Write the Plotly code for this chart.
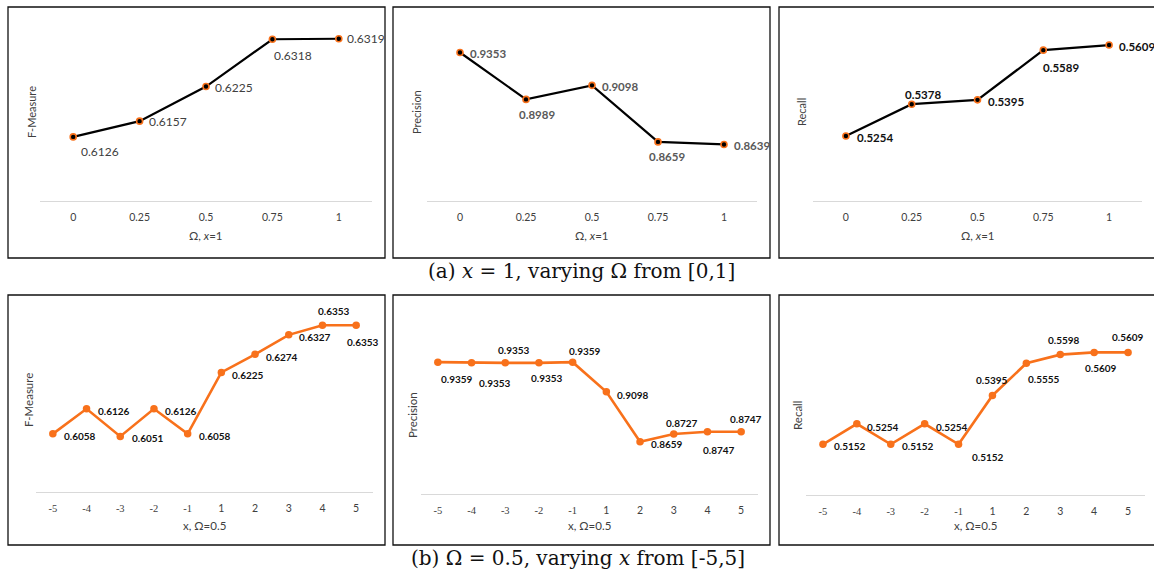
import plotly.graph_objects as go

W, H = 1154, 575

# ---------------- data ----------------
omega_cats = ["0", "0.25", "0.5", "0.75", "1"]
x_cats = ["-5", "-4", "-3", "-2", "-1", "1", "2", "3", "4", "5"]

fm_omega = [0.6126, 0.6157, 0.6225, 0.6318, 0.6319]
prec_omega = [0.9353, 0.8989, 0.9098, 0.8659, 0.8639]
rec_omega = [0.5254, 0.5378, 0.5395, 0.5589, 0.5609]

fm_x = [0.6058, 0.6126, 0.6051, 0.6126, 0.6058, 0.6225, 0.6274, 0.6327, 0.6353, 0.6353]
prec_x = [0.9359, 0.9353, 0.9353, 0.9353, 0.9359, 0.9098, 0.8659, 0.8727, 0.8747, 0.8747]
rec_x = [0.5152, 0.5254, 0.5152, 0.5254, 0.5152, 0.5395, 0.5555, 0.5598, 0.5609, 0.5609]

y_titles = ["F-Measure", "Precision", "Recall"]
x_title_top = "Ω, <i>x</i>=1"
x_title_bottom = "x, Ω=0.5"
caption_a = "(a) <i>x</i> = 1, varying Ω from [0,1]"
caption_b = "(b) Ω = 0.5, varying <i>x</i> from [-5,5]"

# ---------------- layout config (pixels) ----------------
ORANGE = "#F8711B"
TOP_LBL = [
    [(26.5, 15), (28, 0), (28, 1), (21, 16), (27, 0)],
    [(28, 1), (11, 15), (28, 1), (9, 15), (28, 1)],
    [(29, 2), (11, -10), (28, 2), (18, 17), (28, 1)],
]
BOT_LBL = [
    [(27.5, 2), (27.5, 2), (27.5, 2), (27.5, 2), (27.5, 2), (26.5, 3), (26.5, 3), (26.5, 2), (12, -14), (7, 17)],
    [(19, 17), (23, 20), (9, -13), (8, 15), (12, -11), (26.5, 3), (26.5, 2), (8, -11), (12, 18), (5, -13)],
    [(27.5, 2), (26.5, 3), (27.5, 2), (27.5, 3), (29, 13), (0, -15), (18, 16), (4, -15), (7, 16), (0, -15)],
]

panels = [
    dict(cats=omega_cats, y=fm_omega, xd=(40, 372), yd=(23, 201), yr=(0.6, 0.635), top=True,
         lblfont=dict(family="Lato", size=12, color="#404040"), lbl=TOP_LBL[0],
         ytitle=(32, 112), box=(8, 7, 385, 258)),
    dict(cats=omega_cats, y=prec_omega, xd=(427, 757), yd=(23, 201), yr=(0.82, 0.9582), top=True,
         lblfont=dict(family="Lato", size=11.5, color="#595959", weight="bold"), lbl=TOP_LBL[1],
         ytitle=(417, 112), box=(393, 7, 770, 258)),
    dict(cats=omega_cats, y=rec_omega, xd=(813, 1142), yd=(23, 201), yr=(0.5, 0.5695), top=True,
         lblfont=dict(family="Lato", size=11.5, color="#111111", weight="bold"), lbl=TOP_LBL[2],
         ytitle=(802, 112), box=(779, 7, 1160, 258)),
    dict(cats=x_cats, y=fm_x, xd=(36, 373), yd=(308, 492), yr=(0.59, 0.64), top=False,
         lblfont=dict(family="Lato", size=10, color="#111111", weight="bold"), lbl=BOT_LBL[0],
         ytitle=(28, 400), box=(8, 295, 385, 545)),
    dict(cats=x_cats, y=prec_x, xd=(421, 758), yd=(312, 494), yr=(0.82, 0.98), top=False,
         lblfont=dict(family="Lato", size=10, color="#111111", weight="bold"), lbl=BOT_LBL[1],
         ytitle=(412, 415), box=(393, 295, 770, 545)),
    dict(cats=x_cats, y=rec_x, xd=(806, 1145), yd=(314, 495), yr=(0.49, 0.58), top=False,
         lblfont=dict(family="Lato", size=10, color="#111111", weight="bold"), lbl=BOT_LBL[2],
         ytitle=(797, 415), box=(779, 295, 1160, 545)),
]


def px_x(v):
    return v / W


def px_y(v):
    return 1 - v / H


fig = go.Figure()
annotations = []
shapes = []
layout = {}

for i, p in enumerate(panels):
    n = i + 1
    xa = "x" if n == 1 else f"x{n}"
    ya = "y" if n == 1 else f"y{n}"
    xkey = "xaxis" if n == 1 else f"xaxis{n}"
    ykey = "yaxis" if n == 1 else f"yaxis{n}"
    cats = p["cats"]
    pos = list(range(len(cats)))

    if p["top"]:
        line = dict(color="black", width=2.2)
        marker = dict(size=6, color="black", line=dict(color=ORANGE, width=1.6))
        ticktext = cats
    else:
        line = dict(color=ORANGE, width=2.6)
        marker = dict(size=7.5, color=ORANGE)
        ticktext = [
            f'<span style="font-family:Liberation Serif">{c}</span>' if c.startswith("-") else c
            for c in cats
        ]

    fig.add_trace(go.Scatter(
        x=pos, y=p["y"], mode="lines+markers", line=line, marker=marker,
        xaxis=xa, yaxis=ya, showlegend=False, hoverinfo="skip", cliponaxis=False,
    ))

    layout[xkey] = dict(
        domain=[px_x(p["xd"][0]), px_x(p["xd"][1])], anchor=ya,
        range=[-0.5, len(cats) - 0.5],
        showgrid=False, zeroline=False, showline=True, linecolor="#D9D9D9", linewidth=1.3,
        ticks="outside", ticklen=6, tickcolor="rgba(0,0,0,0)",
        tickmode="array", tickvals=pos, ticktext=ticktext,
        tickfont=dict(family="Lato", size=10.5, color="#404040"), fixedrange=True,
    )
    layout[ykey] = dict(
        domain=[px_y(p["yd"][1]), px_y(p["yd"][0])], anchor=xa, range=list(p["yr"]),
        visible=False, fixedrange=True,
    )

    # data labels
    for k, v, (dx, dy) in zip(pos, p["y"], p["lbl"]):
        annotations.append(dict(
            x=k, y=v, xref=xa, yref=ya, text=f"{v:.4f}", showarrow=False,
            xanchor="center", yanchor="middle", xshift=dx, yshift=-dy,
            font=p["lblfont"],
        ))

    # y title
    tx, ty = p["ytitle"]
    annotations.append(dict(
        x=px_x(tx), y=px_y(ty), xref="paper", yref="paper", text=y_titles[i % 3],
        textangle=-90, showarrow=False, xanchor="center", yanchor="middle",
        font=dict(family="Lato", size=11 if p["top"] else 11.5, color="#404040"),
    ))

    # x title
    xmid = (p["xd"][0] + p["xd"][1]) / 2
    annotations.append(dict(
        x=px_x(xmid), y=px_y(236 if p["top"] else 525), xref="paper", yref="paper",
        text=x_title_top if p["top"] else x_title_bottom, showarrow=False,
        xanchor="center", yanchor="middle",
        font=dict(family="Lato", size=11.5, color="#404040"),
    ))

    # panel frame
    x0, y0, x1, y1 = p["box"]
    shapes.append(dict(
        type="rect", xref="paper", yref="paper",
        x0=px_x(x0), x1=px_x(x1), y0=px_y(y1), y1=px_y(y0),
        line=dict(color="#111111", width=1.3), fillcolor="rgba(0,0,0,0)", layer="below",
    ))

annotations.append(dict(
    x=px_x(581), y=px_y(271), xref="paper", yref="paper", text=caption_a,
    showarrow=False, xanchor="center", yanchor="middle",
    font=dict(family="DejaVu Serif", size=20, color="#111111"),
))
annotations.append(dict(
    x=px_x(578), y=px_y(558), xref="paper", yref="paper", text=caption_b,
    showarrow=False, xanchor="center", yanchor="middle",
    font=dict(family="DejaVu Serif", size=20, color="#111111"),
))

fig.update_layout(
    width=W, height=H, margin=dict(l=0, r=0, t=0, b=0),
    paper_bgcolor="white", plot_bgcolor="rgba(0,0,0,0)",
    annotations=annotations, shapes=shapes, **layout,
)

fig.write_html(
    "out.html",
    config={"displayModeBar": False},
    post_script="document.body.style.margin='0';document.body.style.overflow='hidden';",
)
